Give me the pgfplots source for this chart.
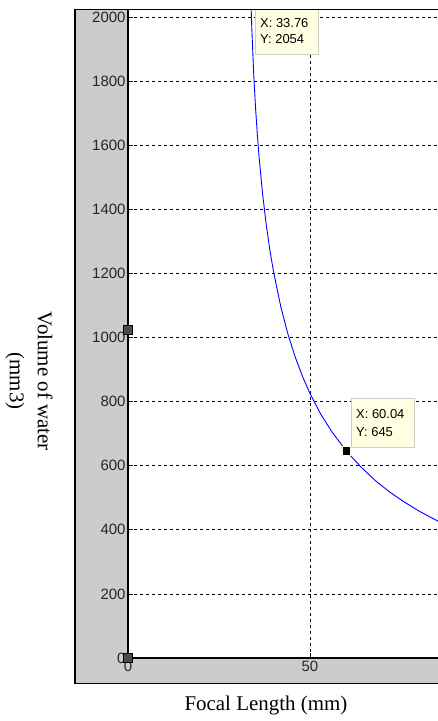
\documentclass[border=0pt]{standalone}
\usepackage{pgfplots}
\pgfplotsset{compat=1.18}
\usepackage{fontspec}
\setmainfont{Liberation Serif}
\newfontfamily\tickfont{Liberation Sans}
\definecolor{panelgray}{RGB}{204,204,204}
\definecolor{tipyellow}{RGB}{255,255,225}
\definecolor{tipborder}{RGB}{205,205,195}
\definecolor{curveblue}{RGB}{0,0,255}
\begin{document}
\begin{tikzpicture}[x=1bp,y=1bp]
\path[use as bounding box] (0bp,0bp) rectangle (438bp,721bp);
\fill[white] (0bp,0bp) rectangle (438bp,721bp);
\draw[line width=1.5bp, fill=panelgray] (75bp,37.5bp) rectangle (470bp,711.5bp);
\begin{axis}[
  at={(128bp,63bp)}, anchor=south west,
  x=3.64bp, y=0.3205bp,
  xmin=0, xmax=90, ymin=0, ymax=2023,
  axis background/.style={fill=white},
  xtick={0,50}, ytick={0,200,...,2000},
  xtick pos=left, ytick pos=left,
  scaled ticks=false,
  grid=major,
  major grid style={black, dash pattern=on 3bp off 3bp, line width=0.7bp},
  tick align=inside, major tick length=5bp,
  tick style={black, line width=0.8bp},
  axis line style={black, line width=1.2bp},
  tick label style={font=\tickfont\fontsize{15}{15}\selectfont, text=black!85},
  yticklabel style={xshift=1bp},
  /pgf/number format/assume math mode=true,
  /pgf/number format/1000 sep={},
  xlabel={Focal Length (mm)},
  ylabel={Volume of water\\(mm3)},
  every axis x label/.style={at={(axis description cs:0.421,-0.074)}, anchor=center, font=\fontsize{21}{26}\selectfont},
  every axis y label/.style={at={(axis description cs:-0.302,0.427)}, anchor=center, rotate=-90, align=center, font=\fontsize{21}{28}\selectfont},
  clip mode=individual,
]
\addplot[curveblue, line width=0.9bp] coordinates {
(33.05,2570) (33.1,2486) (33.2,2373) (33.4,2227) (33.6,2122) (33.76,2054)
(34,1969) (34.5,1831) (35,1725) (35.5,1638) (36,1565) (37,1445) (38,1350)
(39,1271) (40,1204) (42,1095) (44,1008) (46,937) (48,877) (50,825)
(53,760) (56,706) (60.04,645) (64,596) (68,553) (72,517) (76,486)
(80,458) (85,428) (90,402)
};
\addplot[only marks, mark=square*, mark size=4.5bp, mark options={fill=black, draw=tipyellow, line width=1.2bp}] coordinates {(60.04,645)};
\addplot[only marks, mark=square*, mark size=4.6bp, mark options={fill=black!70, draw=black, line width=0.6bp}] coordinates {(0,1025) (0,0)};
\end{axis}
% data tips
\filldraw[fill=tipyellow, draw=tipborder, line width=1bp] (255bp,666bp) rectangle (318bp,711bp);
\node[anchor=west, inner sep=0pt, font=\tickfont\fontsize{13}{13}\selectfont] at (260bp,698bp) {X: 33.76};
\node[anchor=west, inner sep=0pt, font=\tickfont\fontsize{13}{13}\selectfont] at (260bp,681.5bp) {Y: 2054};
\filldraw[fill=tipyellow, draw=tipborder, line width=1bp] (351bp,273bp) rectangle (414bp,322bp);
\node[anchor=west, inner sep=0pt, font=\tickfont\fontsize{13}{13}\selectfont] at (356bp,307bp) {X: 60.04};
\node[anchor=west, inner sep=0pt, font=\tickfont\fontsize{13}{13}\selectfont] at (356bp,289bp) {Y: 645};
\draw[line width=1.5bp] (75bp,711.5bp) -- (470bp,711.5bp);
\end{tikzpicture}
\end{document}
